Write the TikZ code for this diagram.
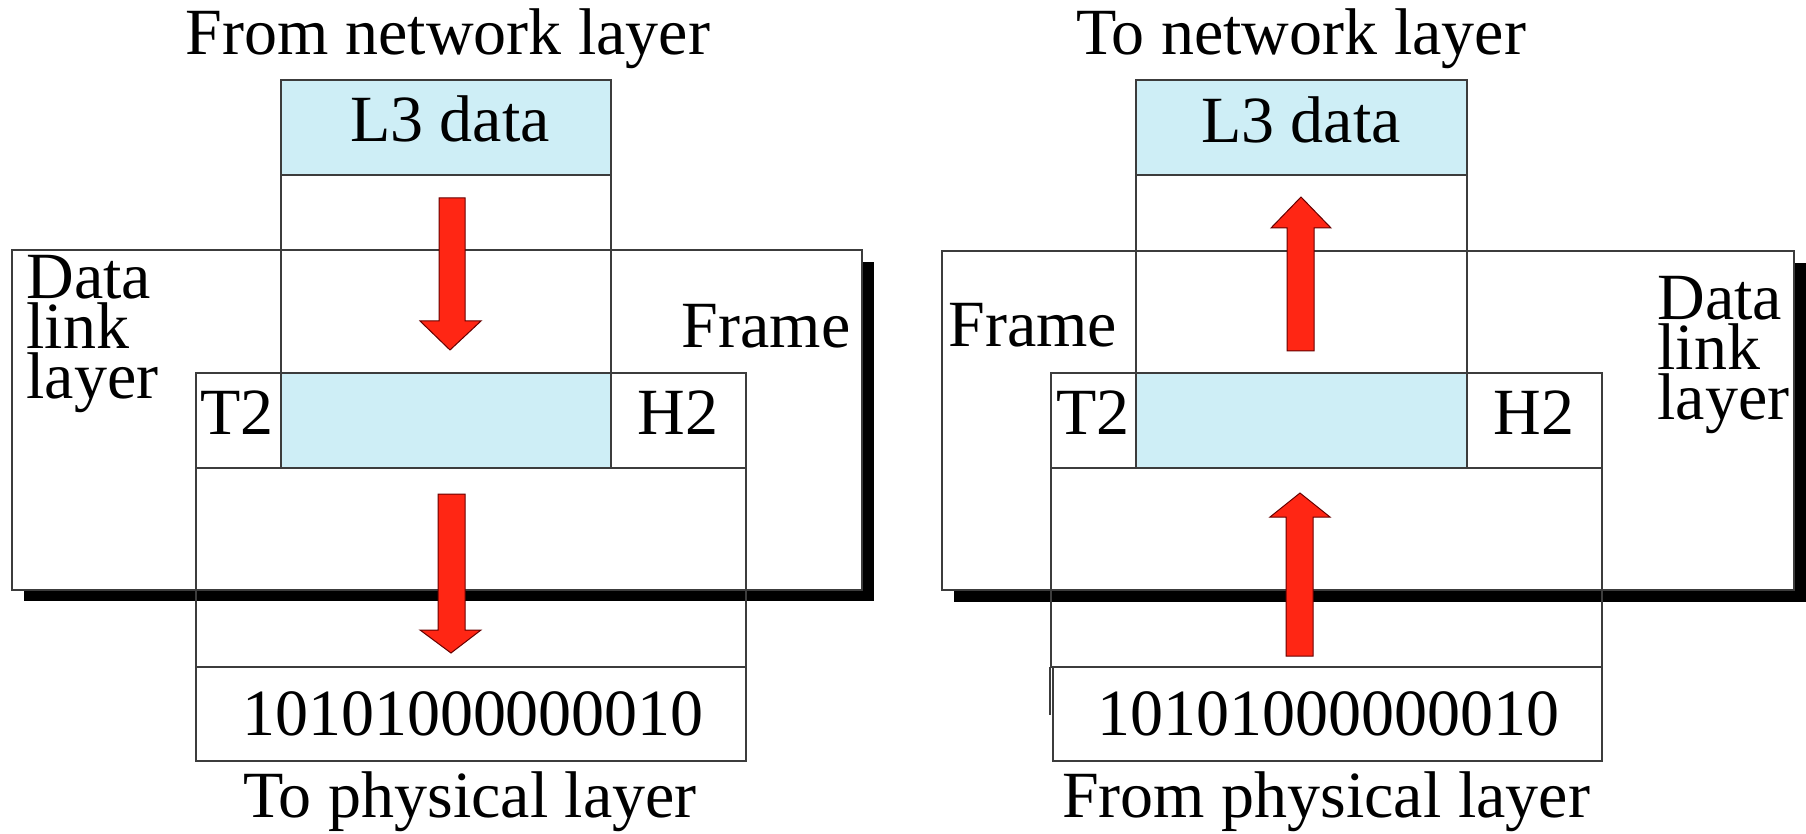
\documentclass[tikz,border=0pt]{standalone}
\usepackage{fontspec}
\setmainfont{Liberation Serif}
\definecolor{lblue}{RGB}{206,238,246}
\definecolor{arrred}{RGB}{255,38,20}
\definecolor{edgegray}{RGB}{60,60,60}
\tikzset{
  boxline/.style={draw=edgegray, line width=0.75pt},
  blueline/.style={fill=lblue, draw=edgegray, line width=0.75pt},
  shadowbox/.style={fill=black},
  lbl/.style={font=\fontsize{33}{25}\selectfont, inner sep=0pt},
  redarrow/.style={fill=arrred, draw=black!60!red, line width=0.5pt},
}
\begin{document}
\begin{tikzpicture}[x=0.5pt,y=-0.5pt]
\useasboundingbox (0,0) rectangle (1806,834);
% ================= LEFT =================
\fill[shadowbox] (24,262) rectangle (874,601);
\draw[boxline, fill=white] (12,250) rectangle (862,590);
\draw[blueline] (281,80) rectangle (611,175);
\draw[boxline] (281,175) -- (281,373) (611,175) -- (611,373);
\draw[boxline] (196,373) rectangle (746,468);
\draw[blueline] (281,373) rectangle (611,468);
\draw[boxline] (196,468) rectangle (746,667);
\draw[boxline] (196,667) rectangle (746,761);
\draw[redarrow] (439,198) -- (465,198) -- (465,321) -- (481,321) -- (450,350) -- (420,321) -- (439,321) -- cycle;
\draw[redarrow] (438,494) -- (465,494) -- (465,630) -- (481,630) -- (451,653) -- (420,630) -- (438,630) -- cycle;
\node[lbl, anchor=base] (fromnet) at (448,55) {From network layer};
\node[lbl, anchor=base] (l3left) at (450,142) {L3 data};
\node[lbl, anchor=base east] (frameleft) at (851,348) {Frame};
\node[lbl, anchor=north west, align=left] (dllleft) at (26,255) {Data\\link\\layer};
\node[lbl, anchor=base] (t2left) at (237,435) {T2};
\node[lbl, anchor=base] (h2left) at (678,435) {H2};
\node[lbl, anchor=base] (bitsleft) at (473,735) {10101000000010};
\node[lbl, anchor=base] (tophys) at (470,817) {To physical layer};
% ================= RIGHT =================
\fill[shadowbox] (954,263) rectangle (1806,602);
\draw[boxline, fill=white] (942,251) rectangle (1794,590);
\draw[blueline] (1136,80) rectangle (1467,175);
\draw[boxline] (1136,175) -- (1136,373) (1467,175) -- (1467,373);
\draw[boxline] (1051,373) rectangle (1602,468);
\draw[blueline] (1136,373) rectangle (1467,468);
\draw[boxline] (1051,468) rectangle (1602,667);
\draw[boxline] (1050,667) -- (1050,715);
\draw[boxline] (1053,667) rectangle (1602,761);
\draw[redarrow] (1287,351) -- (1314,351) -- (1314,228) -- (1331,228) -- (1301,197) -- (1271,228) -- (1287,228) -- cycle;
\draw[redarrow] (1286,656) -- (1313,656) -- (1313,517) -- (1330,517) -- (1300,493) -- (1270,517) -- (1286,517) -- cycle;
\node[lbl, anchor=base] (tonet) at (1301,55) {To network layer};
\node[lbl, anchor=base] (l3right) at (1301,143) {L3 data};
\node[lbl, anchor=base west] (frameright) at (948,347) {Frame};
\node[lbl, anchor=north west, align=left] (dllright) at (1657,276) {Data\\link\\layer};
\node[lbl, anchor=base] (t2right) at (1093,435) {T2};
\node[lbl, anchor=base] (h2right) at (1534,435) {H2};
\node[lbl, anchor=base] (bitsright) at (1328,735) {10101000000010};
\node[lbl, anchor=base] (fromphys) at (1326,817) {From physical layer};
\end{tikzpicture}
\end{document}
